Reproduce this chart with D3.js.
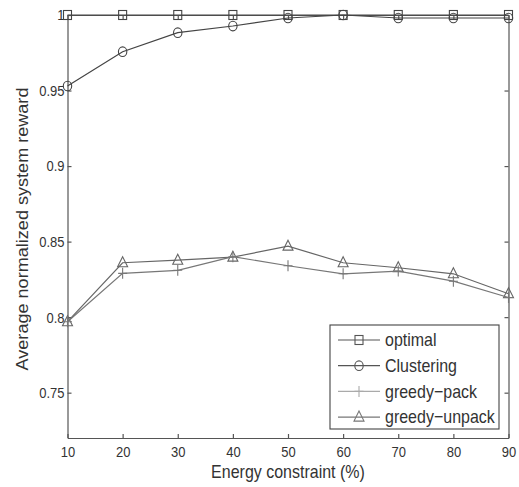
<!DOCTYPE html>
<html><head><meta charset="utf-8">
<script src="https://cdn.jsdelivr.net/npm/d3@7"></script>
<style>body{margin:0;background:#fff}svg{display:block}text{font-family:"Liberation Sans",Arial,sans-serif}
.st{transform-box:fill-box;transform-origin:center;transform:scaleY(1.15)}</style>
</head><body><svg id="c" width="519" height="487"></svg>
<script>
const xValues = [10,20,30,40,50,60,70,80,90];
const optimal = [1,1,1,1,1,1,1,1,1];
const clustering = [0.953,0.9757,0.9883,0.9927,0.998,1.0,0.998,0.998,0.998];
const greedyPack = [0.797,0.829,0.831,0.840,0.834,0.8287,0.8305,0.8238,0.813];
const greedyUnpack = [0.797,0.836,0.8377,0.8397,0.847,0.836,0.8327,0.8287,0.8155];
const seriesNames = ["optimal","Clustering","greedy\u2212pack","greedy\u2212unpack"];
const xTicks = [10,20,30,40,50,60,70,80,90];
const yTicks = [0.75,0.8,0.85,0.9,0.95,1];
const yTickLabels = ["0.75","0.8","0.85","0.9","0.95","1"];

const svg = d3.select("#c");
const L=67.5,R=508.5,T=15,B=438;
const x = d3.scaleLinear().domain([10,90]).range([L,R]);
const y = d3.scaleLinear().domain([0.72,1]).range([B,T]);
const axCol="#555";

const gB = svg.append("g").attr("transform",`translate(0,${B})`)
  .call(d3.axisBottom(x).tickValues(xTicks).tickSizeInner(-4).tickSizeOuter(0).tickPadding(9));
const gL = svg.append("g").attr("transform",`translate(${L},0)`)
  .call(d3.axisLeft(y).tickValues(yTicks).tickFormat((d,i)=>yTickLabels[i]).tickSizeInner(-4).tickSizeOuter(0).tickPadding(4));
const gR = svg.append("g").attr("transform",`translate(${R},0)`)
  .call(d3.axisRight(y).tickValues(yTicks).tickFormat("").tickSizeInner(-4).tickSizeOuter(0));
const gT = svg.append("g").attr("transform",`translate(0,${T})`)
  .call(d3.axisTop(x).tickValues(xTicks).tickFormat("").tickSizeInner(-4).tickSizeOuter(0));
[gB,gL,gR,gT].forEach(g=>{
  g.selectAll("path,line").attr("stroke",axCol).attr("stroke-width",1.2);
  g.selectAll("text").attr("fill","#333").style("font-size","13px").attr("class","st");
});
gL.selectAll("text").attr("dx","1");

svg.append("text").attr("class","st").attr("x",(L+R)/2).attr("y",477).attr("text-anchor","middle")
  .style("font-size","16px").attr("fill","#333").text("Energy constraint (%)");
svg.append("text").attr("transform",`translate(28,229) rotate(-90) scale(1.13,1)`).attr("text-anchor","middle")
  .style("font-size","16px").attr("fill","#333").text("Average normalized system reward");

const data = [optimal,clustering,greedyPack,greedyUnpack];
const colors = ["#444","#444","#777","#666"];
const line = d3.line().x((d,i)=>x(xValues[i])).y(d=>y(d));

function marker(g,type,cx,cy,col){
  if(type===0) g.append("rect").attr("x",cx-4).attr("y",cy-4.5).attr("width",8).attr("height",9).attr("fill","none").attr("stroke",col).attr("stroke-width",1.1);
  else if(type===1) g.append("ellipse").attr("cx",cx).attr("cy",cy).attr("rx",4.2).attr("ry",4.8).attr("fill","none").attr("stroke",col).attr("stroke-width",1.1);
  else if(type===2) g.append("path").attr("d",`M${cx-4.5},${cy}H${cx+4.5}M${cx},${cy-5.5}V${cy+5.5}`).attr("stroke",col).attr("stroke-width",1.1);
  else g.append("path").attr("d",`M${cx},${cy-6}L${cx+5},${cy+4}L${cx-5},${cy+4}Z`).attr("fill","none").attr("stroke",col).attr("stroke-width",1.1);
}

[3,2,1,0].forEach(k=>{
  const g = svg.append("g");
  g.append("path").attr("d",line(data[k])).attr("fill","none").attr("stroke",colors[k]).attr("stroke-width",1.2);
  data[k].forEach((v,i)=>marker(g,k,x(xValues[i]),y(v),colors[k]));
});

const lg = svg.append("g");
lg.append("rect").attr("x",330).attr("y",325).attr("width",169).attr("height",104).attr("fill","#fff").attr("stroke","#444").attr("stroke-width",1.1);
const legCols=["#555","#555","#aaa","#777"];
seriesNames.forEach((n,k)=>{
  const yy = 340 + k*25.7;
  lg.append("line").attr("x1",338).attr("x2",380).attr("y1",yy).attr("y2",yy).attr("stroke",legCols[k]).attr("stroke-width",1.2);
  marker(lg,k,359,yy,legCols[k]);
  lg.append("text").attr("class","st").attr("x",385).attr("y",yy+5.5).style("font-size","16px").attr("fill","#333").text(n);
});
</script></body></html>
